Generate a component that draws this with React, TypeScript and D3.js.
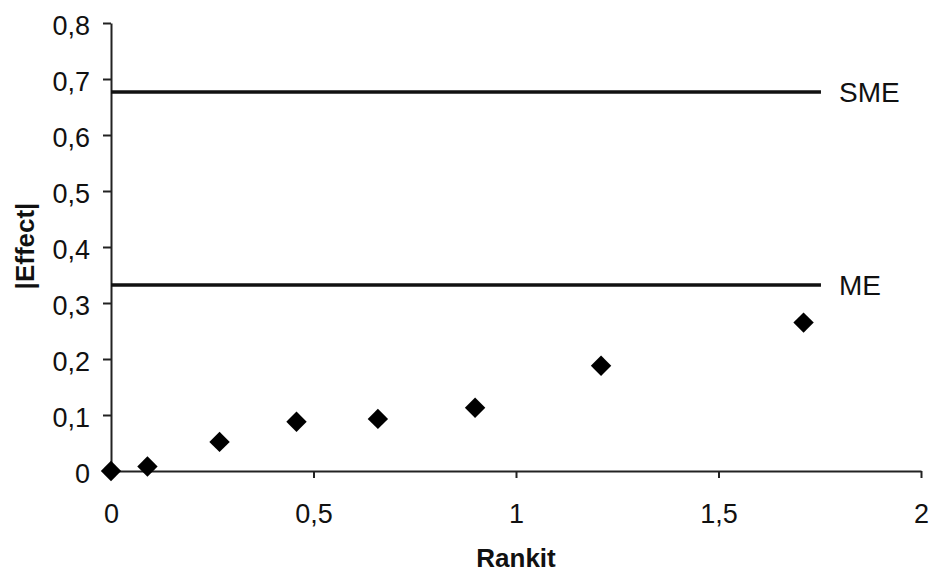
import { useEffect, useRef } from "react"
import * as d3 from "d3"

const rankit = [0, 0.09, 0.268, 0.458, 0.659, 0.899, 1.21, 1.71]
const effect = [0, 0.008, 0.052, 0.088, 0.093, 0.113, 0.188, 0.265]
const refNames = ["SME", "ME"]
const refValues = [0.677, 0.332]
const refEnd = 1.753
const xTicks = [0, 0.5, 1, 1.5, 2]
const yTicks = [0, 0.1, 0.2, 0.3, 0.4, 0.5, 0.6, 0.7, 0.8]

export default function App() {
    const ref = useRef<SVGSVGElement>(null)
    const width = 930
    const height = 575

    useEffect(() => {
        const svg = d3.select(ref.current)
        svg.selectAll("*").remove()

        const x = d3.scaleLinear().domain([0, 2]).range([111, 921])
        const y = d3.scaleLinear().domain([0, 0.8]).range([471, 23])
        const fmt = (d: number) => String(d).replace(".", ",")
        const font = "Liberation Sans, Arial, sans-serif"

        const xa = svg.append("g")
            .attr("transform", `translate(0,${y(0)})`)
            .call(d3.axisBottom(x).tickValues(xTicks).tickFormat(d => fmt(+d)).tickSizeInner(7).tickSizeOuter(0).tickPadding(26))
        const ya = svg.append("g")
            .attr("transform", `translate(${x(0)},0)`)
            .call(d3.axisLeft(y).tickValues(yTicks).tickFormat(d => fmt(+d)).tickSizeInner(8).tickSizeOuter(0).tickPadding(13))
        ya.selectAll("text").attr("dy", "0.42em")

        for (const a of [xa, ya]) {
            a.selectAll("path, line").attr("stroke", "#222").attr("stroke-width", 2)
            a.selectAll("text").attr("font-family", font).attr("font-size", 27).attr("fill", "#111")
        }

        // reference lines
        refValues.forEach((v, i) => {
            svg.append("line")
                .attr("x1", x(0)).attr("x2", x(refEnd))
                .attr("y1", y(v)).attr("y2", y(v))
                .attr("stroke", "#111").attr("stroke-width", 3.5)
            svg.append("text")
                .attr("x", x(refEnd) + 18)
                .attr("y", y(v))
                .attr("dy", "0.36em")
                .attr("font-family", font).attr("font-size", 28).attr("fill", "#111")
                .text(refNames[i])
        })

        const diamond = d3.symbol().type(d3.symbolDiamond2).size(265)
        svg.append("g").selectAll("path")
            .data(rankit.map((r, i) => [r, effect[i]]))
            .enter().append("path")
            .attr("d", diamond)
            .attr("transform", d => `translate(${x(d[0])},${y(d[1])})`)
            .attr("fill", "#000")

        svg.append("text")
            .attr("x", 516).attr("y", 567)
            .attr("text-anchor", "middle")
            .attr("font-family", font).attr("font-size", 26).attr("font-weight", "bold")
            .attr("fill", "#111")
            .text("Rankit")
        svg.append("text")
            .attr("transform", `translate(34,246) rotate(-90)`)
            .attr("text-anchor", "middle")
            .attr("font-family", font).attr("font-size", 26).attr("font-weight", "bold")
            .attr("fill", "#111")
            .text("|Effect|")
    }, [])

    return (
        <div style={{ position: "absolute", left: 0, top: 0 }}>
            <svg ref={ref} width={width} height={height} style={{ display: "block", background: "#fff" }}></svg>
        </div>
    )
}
